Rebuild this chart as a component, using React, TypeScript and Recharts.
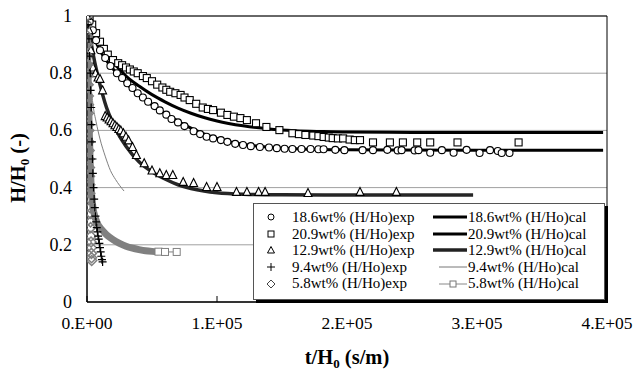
import { ComposedChart, Line, Scatter, XAxis, YAxis, CartesianGrid, ReferenceArea } from "recharts";

const FONT = "Liberation Serif, Times New Roman, Times, DejaVu Serif, serif";

const X_TICKS = [0, 100000, 200000, 300000, 400000];
const Y_TICKS = [0, 0.2, 0.4, 0.6, 0.8, 1];

// points are [t/Ho, H/Ho]
const exp186 = [
  [0, 1], [2000, 0.98], [4500, 0.95], [7000, 0.915], [10000, 0.88], [14000, 0.853], [18000, 0.825],
  [23000, 0.8], [27000, 0.783], [31000, 0.765], [35000, 0.748], [39000, 0.73], [43000, 0.715],
  [47000, 0.7], [52000, 0.685], [56000, 0.67], [61000, 0.655], [65000, 0.64], [70000, 0.628],
  [75000, 0.615], [82000, 0.597], [87000, 0.587], [92000, 0.578], [97000, 0.572], [103000, 0.566],
  [108000, 0.56], [114000, 0.553], [120000, 0.549], [126000, 0.545], [133000, 0.542], [140000, 0.54],
  [146000, 0.538], [152000, 0.536], [158000, 0.535], [165000, 0.535], [172000, 0.535], [178000, 0.534],
  [182000, 0.534], [191000, 0.532], [198000, 0.531], [212000, 0.531], [220000, 0.531], [231000, 0.532],
  [239000, 0.53], [242000, 0.531], [252000, 0.53], [255000, 0.531], [264000, 0.522], [273000, 0.531],
  [282000, 0.522], [292000, 0.532], [302000, 0.521], [310000, 0.531], [316000, 0.528], [319000, 0.521],
  [325000, 0.521],
];
const exp209 = [
  [0, 1], [2000, 0.985], [4000, 0.97], [7000, 0.94], [10000, 0.91], [13000, 0.885], [16000, 0.865],
  [20000, 0.846], [24000, 0.835], [27000, 0.828], [30000, 0.82], [33000, 0.813], [36000, 0.806],
  [39000, 0.8], [43000, 0.79], [46000, 0.783], [50000, 0.772], [54000, 0.76], [58000, 0.75],
  [61000, 0.742], [64000, 0.735], [68000, 0.73], [72000, 0.724], [75000, 0.715], [79000, 0.706],
  [84000, 0.693], [89000, 0.68], [93000, 0.675], [97000, 0.671], [103000, 0.662], [108000, 0.654],
  [113000, 0.648], [118000, 0.643], [123000, 0.636], [130000, 0.625], [138000, 0.612], [148000, 0.601],
  [158000, 0.59], [163000, 0.587], [168000, 0.584], [174000, 0.582], [178000, 0.58], [182000, 0.577],
  [186000, 0.575], [189000, 0.573], [193000, 0.572], [197000, 0.572], [202000, 0.568], [206000, 0.566],
  [210000, 0.566], [220000, 0.558], [233000, 0.558], [243000, 0.558], [254000, 0.558], [264000, 0.558],
  [285000, 0.558], [332000, 0.558],
];
const exp129 = [
  [0, 1], [1500, 0.95], [3000, 0.88], [4600, 0.82], [6500, 0.8], [8500, 0.785], [10000, 0.78],
  [12000, 0.74], [14000, 0.65], [15500, 0.645], [17000, 0.638], [18500, 0.632], [20000, 0.625],
  [21500, 0.618], [23000, 0.612], [24500, 0.605], [26000, 0.6], [28000, 0.59], [30000, 0.578],
  [32000, 0.565], [35000, 0.542], [38000, 0.514], [44000, 0.485], [50000, 0.46], [56000, 0.45],
  [61000, 0.444], [66000, 0.444], [74000, 0.42], [82000, 0.416], [92000, 0.402], [100000, 0.402],
  [115000, 0.385], [123000, 0.385], [132000, 0.385], [137000, 0.385], [170000, 0.381], [210000, 0.385],
  [238000, 0.385],
];
const exp94 = [
  [800, 0.97], [1500, 0.92], [2000, 0.86], [2500, 0.8], [2800, 0.74], [3200, 0.68], [3500, 0.62],
  [3800, 0.56], [4200, 0.5], [4500, 0.45], [5000, 0.4], [5500, 0.36], [6000, 0.33], [6500, 0.3],
  [7000, 0.28], [7500, 0.26], [8000, 0.245], [8500, 0.23], [9000, 0.22], [9500, 0.205], [10000, 0.19],
  [10500, 0.175], [11000, 0.16], [11500, 0.148], [12000, 0.14],
];
const exp58 = [
  [0, 1], [150, 0.97], [300, 0.93], [350, 0.9], [500, 0.86], [650, 0.83], [700, 0.79], [900, 0.76],
  [1000, 0.72], [1100, 0.69], [1150, 0.66], [1300, 0.62], [1400, 0.6], [1500, 0.56], [1650, 0.53],
  [1700, 0.5], [1850, 0.47], [1900, 0.44], [2100, 0.41], [2150, 0.38], [2300, 0.36], [2400, 0.33],
  [2600, 0.31], [2700, 0.28], [2800, 0.26], [3000, 0.23], [3100, 0.21], [3300, 0.19], [3400, 0.17],
  [3500, 0.155], [3600, 0.145],
];

const cal186 = [
  [0, 1], [5000, 0.93], [10000, 0.88], [20000, 0.815], [30000, 0.765], [40000, 0.725], [50000, 0.69],
  [60000, 0.66], [70000, 0.632], [80000, 0.608], [90000, 0.588], [100000, 0.572], [110000, 0.56],
  [120000, 0.552], [140000, 0.541], [160000, 0.536], [180000, 0.533], [200000, 0.532], [300000, 0.531],
  [397000, 0.531],
];
const cal209 = [
  [0, 1], [10000, 0.905], [20000, 0.84], [30000, 0.79], [40000, 0.755], [50000, 0.725], [60000, 0.7],
  [70000, 0.678], [80000, 0.66], [90000, 0.645], [100000, 0.633], [120000, 0.616], [140000, 0.605],
  [160000, 0.599], [180000, 0.596], [200000, 0.594], [250000, 0.593], [300000, 0.593], [397000, 0.593],
];
const cal129 = [
  [0, 1], [2000, 0.94], [5000, 0.86], [10000, 0.76], [15000, 0.68], [20000, 0.625], [25000, 0.58],
  [30000, 0.545], [40000, 0.49], [50000, 0.455], [60000, 0.43], [70000, 0.41], [80000, 0.397],
  [90000, 0.388], [100000, 0.382], [120000, 0.377], [150000, 0.375], [200000, 0.374], [297000, 0.374],
];
const cal94 = [
  [0, 1], [1000, 0.9], [2000, 0.82], [3000, 0.76], [4600, 0.69], [7000, 0.63], [10000, 0.57],
  [14000, 0.51], [18000, 0.46], [22000, 0.428], [25000, 0.408], [28500, 0.388],
];
const cal58 = [
  [0, 1], [800, 0.8], [1600, 0.62], [2500, 0.48], [3500, 0.38], [4600, 0.33], [6000, 0.3],
  [8000, 0.275], [10000, 0.26], [12000, 0.25], [15000, 0.235], [20000, 0.218], [25000, 0.205],
  [30000, 0.195], [35000, 0.188], [40000, 0.183], [45000, 0.179], [50000, 0.177], [55000, 0.176],
];
const cal58Tail = [[55000, 0.176], [60000, 0.175], [69000, 0.175]];

const LEGEND_LABELS = ["18.6wt%", "20.9wt%", "12.9wt%", "9.4wt%", "5.8wt%"];

const pts = (a: number[][]) => a.map(([x, y]) => ({ x, y }));

const fmtX = (v: number) => (v === 0 ? "0.E+00" : `${v / 100000}.E+05`);

const XTick = ({ x, y, payload }: any) => (
  <g>
    <line x1={x} x2={x} y1={y} y2={y - 6} stroke="#000" />
    <text x={x} y={y + 27} textAnchor="middle" fontSize={17.5} fontFamily={FONT} fill="#000">
      {fmtX(payload.value)}
    </text>
  </g>
);

const YTick = ({ x, y, payload }: any) => (
  <text x={x - 15} y={y + 6} textAnchor="end" fontSize={18} fontFamily={FONT} fill="#000">
    {String(payload.value)}
  </text>
);

const Circ = ({ cx, cy }: any) => <circle cx={cx} cy={cy} r={3.5} fill="#fff" stroke="#000" strokeWidth={1.1} />;
const Sq = ({ cx, cy }: any) => <rect x={cx - 3.5} y={cy - 3.5} width={7} height={7} fill="#fff" stroke="#000" strokeWidth={1.1} />;
const Tri = ({ cx, cy }: any) => (
  <polygon points={`${cx},${cy - 4.5} ${cx + 4},${cy + 3.5} ${cx - 4},${cy + 3.5}`} fill="#fff" stroke="#000" strokeWidth={1.1} />
);
const Plus = ({ cx, cy }: any) => (
  <path d={`M${cx - 4},${cy}H${cx + 4}M${cx},${cy - 4}V${cy + 4}`} stroke="#000" strokeWidth={1.2} />
);
const Dia = ({ cx, cy }: any) => (
  <polygon points={`${cx},${cy - 5} ${cx + 5},${cy} ${cx},${cy + 5} ${cx - 5},${cy}`} fill="none" stroke="#808080" strokeWidth={1.5} />
);
const TailSq = ({ cx, cy }: any) => <rect x={cx - 3.5} y={cy - 3.5} width={7} height={7} fill="#fff" stroke="#808080" strokeWidth={1} />;

const legendSymbols = [
  <circle cx={7} cy={7} r={3} fill="#fff" stroke="#000" />,
  <rect x={4} y={4} width={6} height={6} fill="#fff" stroke="#000" />,
  <polygon points="7,3.5 10.5,10 3.5,10" fill="#fff" stroke="#000" />,
  <path d="M3,7H11M7,3V11" stroke="#000" />,
  <polygon points="7,3 11,7 7,11 3,7" fill="#fff" stroke="#444" />,
];

const legendLines = [
  <line x1={0} x2={34} y1={7} y2={7} stroke="#000" strokeWidth={3} />,
  <line x1={0} x2={34} y1={7} y2={7} stroke="#000" strokeWidth={3} />,
  <line x1={0} x2={34} y1={7} y2={7} stroke="#222" strokeWidth={3.5} />,
  <line x1={6} x2={34} y1={7} y2={7} stroke="#777" strokeWidth={1} />,
  <g>
    <line x1={6} x2={34} y1={7} y2={7} stroke="#888" strokeWidth={1} />
    <rect x={17} y={4} width={6} height={6} fill="#fff" stroke="#777" />
  </g>,
];

function ChartLegend() {
  return (
    <div
      style={{
        position: "absolute", left: 253, top: 203, width: 352, height: 97, boxSizing: "border-box",
        background: "#fff", border: "1px solid #555", boxShadow: "3px 3px 0 #000",
        fontFamily: FONT, fontSize: 15, color: "#000",
      }}
    >
      {LEGEND_LABELS.map((lab, i) => (
        <div key={lab} style={{ position: "absolute", top: 5 + i * 16.6, left: 0, width: "100%", height: 16.6, lineHeight: "16.6px" }}>
          <svg width={14} height={14} style={{ position: "absolute", left: 10, top: 1.3 }}>{legendSymbols[i]}</svg>
          <span style={{ position: "absolute", left: 38, whiteSpace: "nowrap", lineHeight: "16.6px" }}>{lab} (H/Ho)exp</span>
          <svg width={34} height={14} style={{ position: "absolute", left: 179, top: 1.3 }}>{legendLines[i]}</svg>
          <span style={{ position: "absolute", left: 214, whiteSpace: "nowrap", lineHeight: "16.6px" }}>{lab} (H/Ho)cal</span>
        </div>
      ))}
    </div>
  );
}

export default function App() {
  return (
    <div style={{ position: "absolute", left: 0, top: 0, width: 637, height: 373, background: "#fff", fontFamily: FONT }}>
      <ComposedChart width={637} height={373} margin={{ top: 16, right: 30, left: 0, bottom: 0 }} style={{ fontFamily: FONT }}>
        <CartesianGrid vertical={false} stroke="#a0a0a0" />
        <XAxis
          dataKey="x"
          type="number"
          domain={[0, 400000]}
          ticks={X_TICKS}
          height={71}
          tickSize={0}
          tickMargin={0}
          tickLine={false}
          axisLine={{ stroke: "#000" }}
          tick={<XTick />}
          allowDataOverflow
          label={{
            content: () => (
              <text x={347} y={364} textAnchor="middle" fontSize={20.5} fontWeight="bold" fontFamily={FONT} fill="#000">
                t/H<tspan fontSize={13} dy={4}>0</tspan>
                <tspan dy={-4}> (s/m)</tspan>
              </text>
            ),
          }}
        />
        <YAxis
          dataKey="y"
          type="number"
          domain={[0, 1]}
          ticks={Y_TICKS}
          width={87}
          tickSize={0}
          tickMargin={0}
          tickLine={false}
          axisLine={{ stroke: "#000" }}
          tick={<YTick />}
          allowDataOverflow
          label={{
            content: () => (
              <text
                x={25}
                y={168}
                transform="rotate(-90, 25, 168)"
                textAnchor="middle"
                fontSize={20.5}
                fontWeight="bold"
                fontFamily={FONT}
                fill="#000"
              >
                H/H<tspan fontSize={13} dy={4}>0</tspan>
                <tspan dy={-4}> (-)</tspan>
              </text>
            ),
          }}
        />
        <ReferenceArea x1={0} x2={400000} y1={0} y2={1} fill="none" fillOpacity={0} stroke="#000" strokeWidth={1} />

        <Line data={pts(cal209)} dataKey="y" type="monotone" stroke="#000" strokeWidth={3} dot={false} isAnimationActive={false} />
        <Line data={pts(cal186)} dataKey="y" type="monotone" stroke="#000" strokeWidth={3} dot={false} isAnimationActive={false} />
        <Line data={pts(cal129)} dataKey="y" type="monotone" stroke="#262626" strokeWidth={3.5} dot={false} isAnimationActive={false} />
        <Line data={pts(cal94)} dataKey="y" type="monotone" stroke="#808080" strokeWidth={1} dot={false} isAnimationActive={false} />

        <Scatter data={pts(exp209)} shape={<Sq />} isAnimationActive={false} />
        <Scatter data={pts(exp186)} shape={<Circ />} isAnimationActive={false} />
        <Scatter data={pts(exp129)} shape={<Tri />} isAnimationActive={false} />
        <Scatter data={pts(exp58)} shape={<Dia />} isAnimationActive={false} />
        <Scatter data={pts(exp94)} shape={<Plus />} isAnimationActive={false} />

        <Line data={pts(cal58)} dataKey="y" type="monotone" stroke="#808080" strokeWidth={7} dot={false} isAnimationActive={false} />
        <Line data={pts(cal58Tail)} dataKey="y" type="linear" stroke="#808080" strokeWidth={1} dot={<TailSq />} isAnimationActive={false} />
      </ComposedChart>
      <ChartLegend />
    </div>
  );
}
